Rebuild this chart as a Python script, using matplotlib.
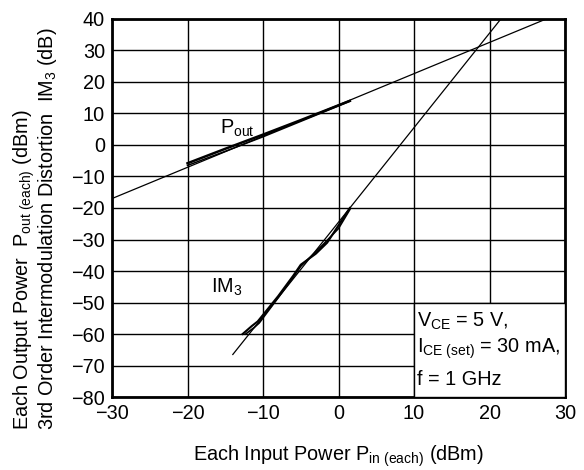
import matplotlib
matplotlib.use("Agg")
import numpy as np
import matplotlib.pyplot as plt
from matplotlib.patches import Rectangle

# --- dati ---
# rette di riferimento (estrapolazioni)
pout_fit_x = [-30, 27.5]
pout_fit_y = [-17.0, 40.0]
im3_fit_x = [-14.0, 21.5]
im3_fit_y = [-66.5, 40.0]

# curve misurate (due tracce sovrapposte)
pout_a_x = [-20, -15, -10, -5, 0, 1.5]
pout_a_y = [-5.8, -1.2, 3.3, 7.9, 12.6, 14.0]
pout_b_x = [-20, -15, -10, -5, 0, 1.5]
pout_b_y = [-6.5, -2.0, 2.6, 7.5, 12.4, 13.9]

im3_a_x = [-12.7, -11.5, -10.7, -8, -6, -5, -3, -1.5, 0, 1.5]
im3_a_y = [-60, -57.5, -56, -48, -41.5, -38, -34.5, -31, -25.5, -20]
im3_b_x = [-12.3, -11.2, -10.5, -8, -6, -5, -3.5, -2, 0, 1.5]
im3_b_y = [-60, -58, -56.5, -48.5, -42, -38.5, -35, -31.5, -26.5, -20.5]

x_ticks = [-30, -20, -10, 0, 10, 20, 30]
y_ticks = [-80, -70, -60, -50, -40, -30, -20, -10, 0, 10, 20, 30, 40]

plt.rcParams['font.family'] = ['Liberation Sans', 'DejaVu Sans']
plt.rcParams['mathtext.fontset'] = 'custom'
plt.rcParams['mathtext.rm'] = 'Liberation Sans'
plt.rcParams['mathtext.it'] = 'Liberation Sans'

FS = 14.3

fig = plt.figure(figsize=(5.84, 4.70), dpi=100)
ax = fig.add_axes([0.1918, 0.1553, 0.7757, 0.8043])

ax.set_xlim(-30, 30)
ax.set_ylim(-80, 40)
ax.set_xticks(x_ticks)
ax.set_yticks(y_ticks)
ax.grid(True, color='black', lw=1.0)
ax.set_axisbelow(True)
for s in ax.spines.values():
    s.set_linewidth(2.0)
ax.tick_params(length=0, labelsize=FS)
ax.tick_params(axis='y', pad=5)
ax.tick_params(axis='x', pad=5)

# rette
ax.plot(pout_fit_x, pout_fit_y, color='black', lw=0.9)
ax.plot(im3_fit_x, im3_fit_y, color='black', lw=0.9)

# misure
ax.plot(pout_a_x, pout_a_y, color='black', lw=1.8)
ax.plot(pout_b_x, pout_b_y, color='black', lw=1.1)
ax.plot(im3_a_x, im3_a_y, color='black', lw=1.5)
ax.plot(im3_b_x, im3_b_y, color='black', lw=1.2)

ax.text(-13.4, 5.4, r'P$_{\mathrm{out}}$', fontsize=FS, ha='center', va='center')
ax.text(-14.8, -45.1, r'IM$_{\mathrm{3}}$', fontsize=FS, ha='center', va='center')

# riquadro condizioni
ax.add_patch(Rectangle((10, -80), 20, 30, facecolor='white', edgecolor='black',
                       lw=1.0, zorder=3, clip_on=False))
ax.text(10.4, -56.1, r'V$_{\mathrm{CE}}$ = 5 V,', fontsize=FS, va='center', zorder=4)
ax.text(10.4, -64.8, r'I$_{\mathrm{CE\ (set)}}$ = 30 mA,', fontsize=FS, va='center', zorder=4)
ax.text(10.4, -74.6, 'f = 1 GHz', fontsize=FS, va='center', zorder=4)

ax.set_xlabel(r'Each Input Power P$_{\mathrm{in\ (each)}}$ (dBm)', fontsize=FS, labelpad=15)

fig.text(24 / 584, 1 - 430 / 470, r'Each Output Power  P$_{\mathrm{out\ (each)}}$ (dBm)',
         rotation=90, ha='center', va='bottom', fontsize=FS)
fig.text(48 / 584, 1 - 430 / 470, r'3rd Order Intermodulation Distortion  IM$_{\mathrm{3}}$ (dB)',
         rotation=90, ha='center', va='bottom', fontsize=FS)

fig.savefig('out.png', dpi=100)
